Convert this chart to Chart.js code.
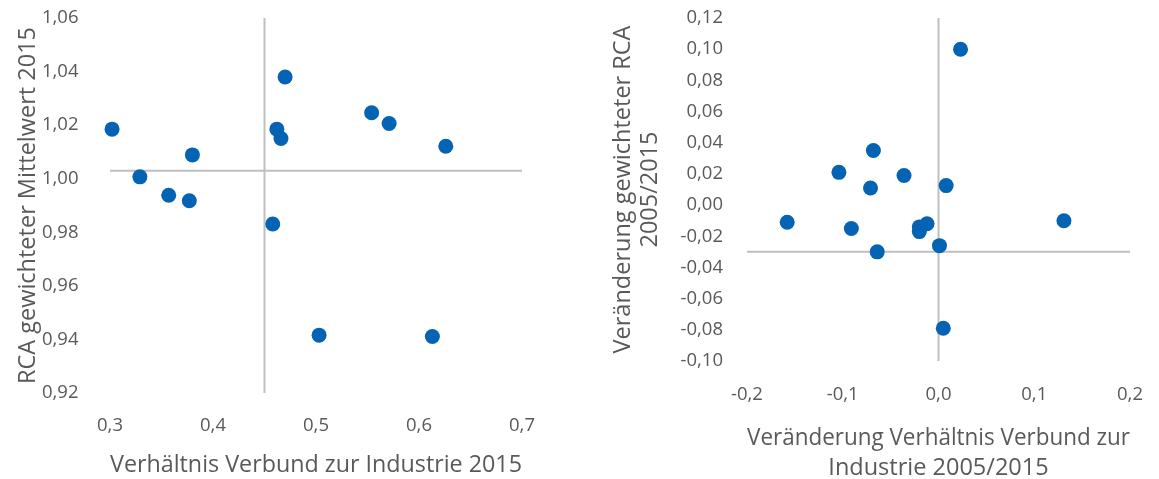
<!DOCTYPE html>
<html>
<head>
<meta charset="utf-8">
<script src="https://cdn.jsdelivr.net/npm/chart.js@4"></script>
<style>
html, body { margin: 0; padding: 0; background: #fff; overflow: hidden; }
canvas { position: absolute; top: 0; }
#left { left: 0; }
#right { left: 575px; }
</style>
</head>
<body>
<canvas id="left" width="575" height="479"></canvas>
<canvas id="right" width="584" height="479"></canvas>
<script>
// left chart: Verhältnis 2015 vs RCA 2015
const leftX = [0.302, 0.329, 0.357, 0.377, 0.380, 0.458, 0.462, 0.466, 0.470, 0.503, 0.554, 0.571, 0.613, 0.626];
const leftY = [1.0185, 1.0007, 0.9938, 0.9918, 1.0089, 0.9831, 1.0185, 1.0150, 1.0380, 0.9416, 1.0246, 1.0206, 0.9411, 1.0121];
const leftXTicks = [0.3, 0.4, 0.5, 0.6, 0.7];
const leftYTicks = [0.92, 0.94, 0.96, 0.98, 1.00, 1.02, 1.04, 1.06];
const leftCross = { x: 0.45, y: 1.003 };

// right chart: Veränderung 2005/2015
const rightX = [-0.158, -0.104, -0.091, -0.068, -0.071, -0.064, -0.036, -0.020, -0.020, -0.012, 0.001, 0.008, 0.023, 0.131, 0.005];
const rightY = [-0.011, 0.021, -0.015, 0.035, 0.011, -0.030, 0.019, -0.014, -0.017, -0.012, -0.026, 0.0125, 0.100, -0.010, -0.079];
const rightXTicks = [-0.2, -0.1, 0.0, 0.1, 0.2];
const rightYTicks = [-0.10, -0.08, -0.06, -0.04, -0.02, 0.00, 0.02, 0.04, 0.06, 0.08, 0.10, 0.12];
const rightCross = { x: 0, y: -0.03 };

const FONT = "'Open Sans', sans-serif";
const TEXT = '#595959';
const DOT = '#0563b4';
const NONE = 'rgba(0,0,0,0)';

const fmt = (v, d) => (Math.abs(v) < 1e-9 ? 0 : v).toFixed(d).replace('.', ',');

// axis lines crossing inside the plot (Excel style)
const crossLines = {
    id: 'crossLines',
    beforeDatasetsDraw(chart, args, opts) {
        const { ctx, chartArea: a, scales: { x, y } } = chart;
        const px = x.getPixelForValue(opts.x);
        const py = y.getPixelForValue(opts.y);
        ctx.save();
        ctx.strokeStyle = '#bfbfbf';
        ctx.lineWidth = 2;
        ctx.beginPath();
        ctx.moveTo(px, a.top); ctx.lineTo(px, a.bottom);
        ctx.moveTo(a.left, py); ctx.lineTo(a.right, py);
        ctx.stroke();
        ctx.restore();
    }
};

// invisible tick marks give the label gap without padding the chart area
const makeChart = (id, xs, ys, c) => new Chart(document.getElementById(id), {
    type: 'scatter',
    data: {
        datasets: [{
            data: xs.map((v, i) => ({ x: v, y: ys[i] })),
            backgroundColor: DOT,
            borderWidth: 0,
            pointRadius: 7.5,
            pointHoverRadius: 7.5,
            clip: false
        }]
    },
    options: {
        responsive: false,
        animation: false,
        events: [],
        layout: { padding: c.pad, autoPadding: false },
        plugins: {
            legend: { display: false },
            tooltip: { enabled: false },
            crossLines: c.cross
        },
        scales: {
            x: {
                type: 'linear',
                min: c.xTicks[0],
                max: c.xTicks[c.xTicks.length - 1],
                afterBuildTicks: s => { s.ticks = c.xTicks.map(v => ({ value: v })); },
                afterFit: s => { s.height = c.xH; },
                grid: { display: true, color: NONE, drawTicks: true, tickLength: c.xTickGap },
                border: { display: false },
                ticks: { padding: 0, color: TEXT, font: { family: FONT, size: 18.5 }, callback: v => fmt(v, 1) },
                title: { display: true, text: c.xTitle, color: TEXT, font: { family: FONT, size: 23.5, lineHeight: 1.2766 }, padding: { top: 0, bottom: c.xTitlePad } }
            },
            y: {
                type: 'linear',
                min: c.yTicks[0],
                max: c.yTicks[c.yTicks.length - 1],
                afterBuildTicks: s => { s.ticks = c.yTicks.map(v => ({ value: v })); },
                afterFit: s => { s.width = c.yW; },
                grid: { display: true, color: NONE, drawTicks: true, tickLength: c.yTickGap },
                border: { display: false },
                ticks: { padding: 0, color: TEXT, font: { family: FONT, size: 18.5 }, callback: v => fmt(v, 2) },
                title: { display: true, text: c.yTitle, color: TEXT, font: { family: FONT, size: 23.5, lineHeight: 1.15 }, padding: { top: c.yTitlePad, bottom: 0 } }
            }
        }
    },
    plugins: [crossLines]
});

makeChart('left', leftX, leftY, {
    xTicks: leftXTicks, yTicks: leftYTicks, cross: leftCross,
    pad: { top: 18, right: 53, left: 0, bottom: 0 },
    xH: 86, yW: 110, xTickGap: 21.5, yTickGap: 31.5,
    xTitle: 'Verhältnis Verbund zur Industrie 2015', xTitlePad: -1,
    yTitle: 'RCA gewichteter Mittelwert 2015', yTitlePad: 14.5
});

makeChart('right', rightX, rightY, {
    xTicks: rightXTicks, yTicks: rightYTicks, cross: rightCross,
    pad: { top: 18, right: 29, left: 0, bottom: 0 },
    xH: 118, yW: 172, xTickGap: 23, yTickGap: 24,
    xTitle: ['Veränderung Verhältnis Verbund zur', 'Industrie 2005/2015'], xTitlePad: -4,
    yTitle: ['Veränderung gewichteter RCA', '2005/2015'], yTitlePad: 34.5
});
</script>
</body>
</html>
